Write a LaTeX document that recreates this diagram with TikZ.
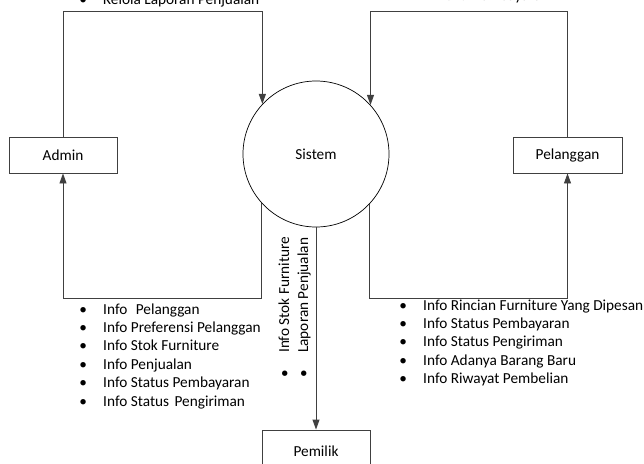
\documentclass[tikz,border=0pt]{standalone}
\usepackage{fontspec}
\setmainfont{Carlito}
\usetikzlibrary{arrows.meta}
\begin{document}
\begin{tikzpicture}[x=1pt,y=-1pt,
  font=\fontsize{15.3}{18.4}\selectfont,
  entity/.style={draw=black!75, line width=0.9pt, minimum width=108pt, minimum height=36pt, inner sep=0pt},
  proc/.style={draw=black, line width=0.7pt, circle, minimum size=146pt, inner sep=0pt},
  flow/.style={draw=black!75, line width=0.9pt, -{Triangle[length=10pt,width=7pt]}},
  item/.style={anchor=base west, inner sep=0pt},
  vitem/.style={rotate=90, anchor=base west, inner sep=0pt}]
\useasboundingbox (0,0) rectangle (644,463);
\newcommand{\bul}{\makebox[0pt][c]{\textbullet}\hspace{20pt}}

\node[entity] (admin) at (63,155) {Admin};
\node[entity, minimum width=109pt] (pel) at (567.5,155) {Pelanggan};
\node[proc] (sis) at (316,154) {Sistem};
\node[entity, minimum height=42pt] (pem) at (316,451) {Pemilik};

\coordinate (top) at (0,11);
\coordinate (bot) at (0,298);

\draw[flow] (admin.north) -- (admin.north |- top) -| (sis.137.7);
\draw[flow] (pel.north) -- (pel.north |- top) -| (sis.42.3);
\draw[flow] (sis.222.3) -- (sis.222.3 |- bot) -| (admin.south);
\draw[flow] (sis.317.7) -- (sis.317.7 |- bot) -| (pel.south);
\draw[flow] (sis.south) -- (pem.north);

% top labels (cut off by the page edge, as in the reference)
\node[item] (tl) at (83,5) {\bul Kelola Laporan Penjualan};
\node[item] (tr) at (417,0.5) {\bul Bukti Pembayaran};

% left list
\foreach \t [count=\i] in {Info\hspace{5pt} Pelanggan, Info Preferensi Pelanggan, Info Stok Furniture, Info Penjualan, Info Status Pembayaran, Info Status\hspace{2pt} Pengiriman}
  \node[item] (L\i) at ({83},{314+18.4*(\i-1)}) {\bul\t};

% right list
\foreach \t [count=\i] in {Info Rincian Furniture Yang Dipesan, Info Status Pembayaran, Info Status Pengiriman, Info Adanya Barang Baru, Info Riwayat Pembelian}
  \node[item] (R\i) at ({403},{310+18.4*(\i-1)}) {\bul\t};

% rotated list
\node[vitem] (v1) at (289,374) {\makebox[0pt][c]{\textbullet}\hspace{21pt}Info Stok Furniture};
\node[vitem] (v2) at (308,374) {\makebox[0pt][c]{\textbullet}\hspace{21pt}Laporan Penjualan};
\end{tikzpicture}
\end{document}
